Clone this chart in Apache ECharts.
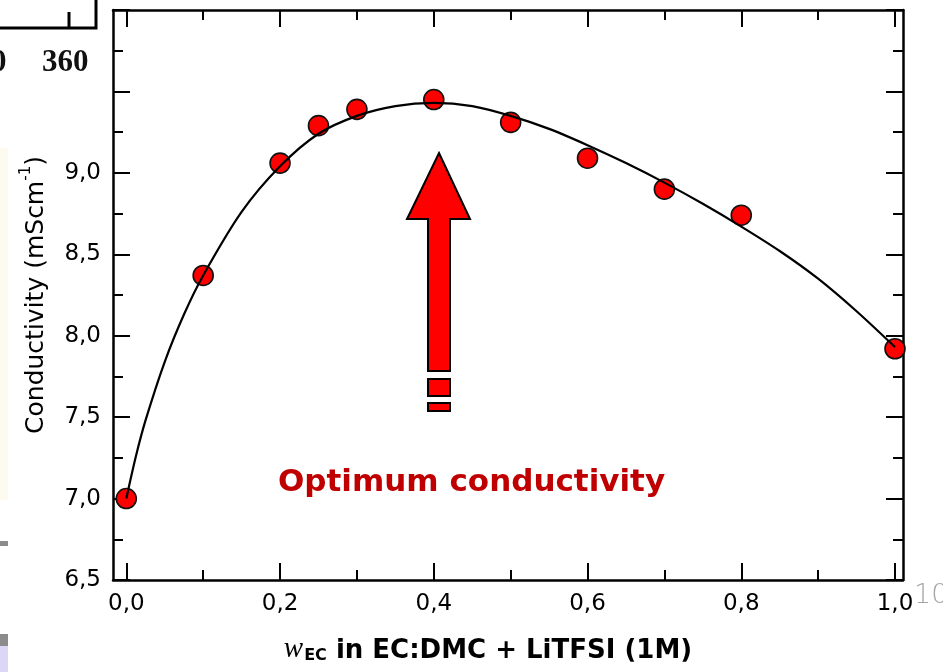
<!DOCTYPE html>
<html>
<head>
<meta charset="utf-8">
<script src="https://cdn.jsdelivr.net/npm/echarts@6/dist/echarts.min.js"></script>
<style>
html,body{margin:0;padding:0;background:#fff;}
#chart{width:943px;height:672px;}
</style>
</head>
<body>
<div id="chart"></div>
<script>
// ---- data ----
const xTickValues = [0, 0.2, 0.4, 0.6, 0.8, 1.0];
const xTickLabels = ['0,0', '0,2', '0,4', '0,6', '0,8', '1,0'];
const xMinorTicks = [0.1, 0.3, 0.5, 0.7, 0.9];
const yTickValues = [6.5, 7.0, 7.5, 8.0, 8.5, 9.0, 9.5, 10.0];
const yTickLabels = ['6,5', '7,0', '7,5', '8,0', '8,5', '9,0', '', ''];
const yMinorTicks = [6.75, 7.25, 7.75, 8.25, 8.75, 9.25, 9.75];

const wEC = [0, 0.1, 0.2, 0.25, 0.3, 0.4, 0.5, 0.6, 0.7, 0.8, 1.0];
const conductivity = [7.00, 8.37, 9.06, 9.29, 9.39, 9.45, 9.31, 9.09, 8.90, 8.74, 7.92];

const fitX = [0, 0.0125, 0.025, 0.05, 0.075, 0.1, 0.15, 0.2, 0.25, 0.3, 0.35, 0.4, 0.45, 0.5, 0.55, 0.6, 0.65, 0.7, 0.75, 0.8, 0.85, 0.9, 0.95, 1.0];
const fitY = [7.00, 7.26, 7.48, 7.84, 8.13, 8.37, 8.76, 9.04, 9.24, 9.35, 9.41, 9.43, 9.41, 9.35, 9.27, 9.17, 9.06, 8.94, 8.81, 8.67, 8.52, 8.35, 8.15, 7.93];

const xMin = -0.0173, xMax = 1.0104;
const yMin = 6.5, yMax = 10.0;

// ---- chart ----
const chart = echarts.init(document.getElementById('chart'), null, {renderer: 'canvas'});

function lbl(values, labels) {
  return function (v) {
    for (let i = 0; i < values.length; i++) {
      if (Math.abs(values[i] - v) < 1e-6) return labels[i];
    }
    return '';
  };
}

const lineStyle = {color: '#000', width: 2.5};
const tickStyle = {color: '#000', width: 2};
const labelFont = {fontFamily: 'DejaVu Sans', fontSize: 23, color: '#000'};

function xAx(pos, major, withLabel) {
  return {
    type: 'value', position: pos, min: xMin, max: xMax,
    axisLine: {show: major, onZero: false, lineStyle: lineStyle},
    axisTick: {show: true, inside: true, length: major ? 17 : 10,
      customValues: major ? xTickValues : xMinorTicks, lineStyle: tickStyle},
    axisLabel: {show: withLabel, customValues: xTickValues, formatter: lbl(xTickValues, xTickLabels), margin: 13, ...labelFont},
    splitLine: {show: false}, axisPointer: {show: false}
  };
}
function yAx(pos, major, withLabel) {
  return {
    type: 'value', position: pos, min: yMin, max: yMax,
    axisLine: {show: major, onZero: false, lineStyle: lineStyle},
    axisTick: {show: true, inside: true, length: major ? 17 : 10,
      customValues: major ? yTickValues : yMinorTicks, lineStyle: tickStyle},
    axisLabel: {show: withLabel, customValues: yTickValues, formatter: lbl(yTickValues, yTickLabels), margin: 12, ...labelFont},
    splitLine: {show: false}, axisPointer: {show: false}
  };
}

const xMain = xAx('bottom', true, true);
xMain.name = '{w|w}{sub|EC}{b| in EC:DMC + LiTFSI (1M)}';
xMain.nameLocation = 'middle';
xMain.nameGap = 50;
xMain.nameTextStyle = {
  padding: [0, 40, 0, 0],
  rich: {
    w: {fontFamily: 'Liberation Serif', fontStyle: 'italic', fontSize: 29, color: '#000', verticalAlign: 'bottom', lineHeight: 34},
    sub: {fontFamily: 'DejaVu Sans', fontWeight: 'bold', fontSize: 16, color: '#000', verticalAlign: 'bottom', lineHeight: 34, padding: [15, 0, 0, 1]},
    b: {fontFamily: 'DejaVu Sans', fontWeight: 'bold', fontSize: 26, color: '#000', verticalAlign: 'bottom', lineHeight: 34}
  }
};

const yMain = yAx('left', true, true);
yMain.name = '{a|Conductivity (mScm}{sup|-1}{a|)}';
yMain.nameLocation = 'middle';
yMain.nameRotate = 90;
yMain.nameGap = 64;
yMain.nameTextStyle = {
  rich: {
    a: {fontFamily: 'DejaVu Sans', fontSize: 25, color: '#000', verticalAlign: 'bottom', lineHeight: 30},
    sup: {fontFamily: 'DejaVu Sans', fontSize: 15, color: '#000', verticalAlign: 'top', lineHeight: 30, padding: [0, 0, 12, 0]}
  }
};

const option = {
  backgroundColor: '#ffffff',
  animation: false,
  grid: {left: 113, right: 40, top: 10, bottom: 92},
  xAxis: [xMain, xAx('bottom', false, false), xAx('top', true, false), xAx('top', false, false)],
  yAxis: [yMain, yAx('left', false, false), yAx('right', true, false), yAx('right', false, false)],
  series: [
    {
      type: 'scatter', xAxisIndex: 0, yAxisIndex: 0, z: 2,
      symbol: 'circle', symbolSize: 20,
      itemStyle: {color: '#ff0000', borderColor: '#111', borderWidth: 1.6, opacity: 1},
      data: wEC.map((x, i) => [x, conductivity[i]])
    },
    {
      type: 'line', xAxisIndex: 0, yAxisIndex: 0, z: 3,
      smooth: 0.3, showSymbol: false, symbol: 'none',
      lineStyle: {color: '#000', width: 2.2},
      data: fitX.map((x, i) => [x, fitY[i]])
    }
  ],
  graphic: [
    // optimum arrow annotation
    {type: 'polygon', z: 10, shape: {points: [[439, 153], [470, 219], [450, 219], [450, 371], [428, 371], [428, 219], [407, 219]]},
      style: {fill: '#ff0000', stroke: '#000', lineWidth: 2}},
    {type: 'rect', z: 10, shape: {x: 428, y: 379, width: 22, height: 17}, style: {fill: '#ff0000', stroke: '#000', lineWidth: 2}},
    {type: 'rect', z: 10, shape: {x: 428, y: 403, width: 22, height: 8}, style: {fill: '#ff0000', stroke: '#000', lineWidth: 2}},
    {type: 'text', z: 10, left: 278, top: 467,
      style: {text: 'Optimum conductivity', fontFamily: 'DejaVu Sans', fontWeight: 'bold', fontSize: 31, fill: '#c00000'}},
    // slide page number
    {type: 'text', z: 10, left: 914, top: 582,
      style: {text: '10', fontFamily: 'DejaVu Sans', fontWeight: 200, fontSize: 27, fill: '#a6a6a6'}},
    // fragments of neighbouring slide content at the left edge
    {type: 'polyline', z: 10, shape: {points: [[0, 28], [96, 28], [96, 0]]}, style: {stroke: '#000', lineWidth: 3, fill: null}},
    {type: 'line', z: 10, shape: {x1: 69, y1: 12, x2: 69, y2: 28}, style: {stroke: '#000', lineWidth: 3}},
    {type: 'text', z: 10, left: -9, top: 47, style: {text: '0', fontFamily: 'Liberation Serif', fontWeight: 'bold', fontSize: 31, fill: '#111'}},
    {type: 'text', z: 10, left: 42, top: 47, style: {text: '360', fontFamily: 'Liberation Serif', fontWeight: 'bold', fontSize: 31, fill: '#111'}},
    {type: 'rect', z: 1, shape: {x: 0, y: 148, width: 8, height: 352}, style: {fill: '#fdfbef'}},
    {type: 'rect', z: 10, shape: {x: 0, y: 541, width: 8, height: 5}, style: {fill: '#8c8c8c'}},
    {type: 'rect', z: 10, shape: {x: 0, y: 634, width: 8, height: 12}, style: {fill: '#8c8c8c'}},
    {type: 'rect', z: 10, shape: {x: 0, y: 646, width: 8, height: 26}, style: {fill: '#dcd6f7'}}
  ]
};
chart.setOption(option);
</script>
</body>
</html>
